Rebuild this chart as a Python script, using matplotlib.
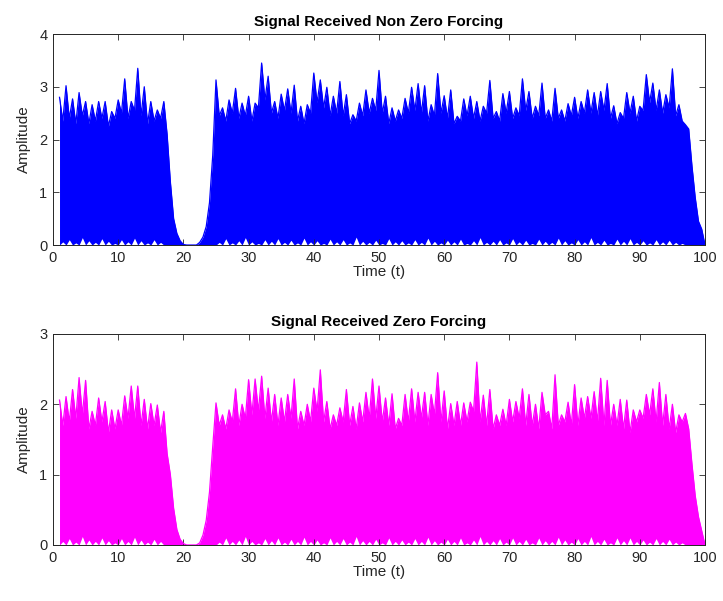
import numpy as np
import matplotlib.pyplot as plt

plt.rcParams['font.family'] = ['Liberation Sans', 'DejaVu Sans']

# envelope of the received signals
# values at whole time steps t = 1..100 and at the half steps t = 1.5..99.5
t_whole = np.arange(1, 101)
t_half = np.arange(1.5, 100, 1.0)

nzf_peaks = [2.80, 3.02, 2.77, 2.89, 2.72, 2.66, 2.72, 2.72, 2.53, 2.75, 3.15, 2.72, 3.35, 3.00, 2.72, 2.56, 2.72,
             1.20, 0.22, 0.01, 0.00, 0.00, 0.15, 0.80,
             3.13, 2.60, 2.75, 2.97, 2.69, 2.82, 2.69, 3.45, 3.20, 2.72, 2.86, 2.96, 3.03, 2.63, 2.66, 3.26,
             3.13, 2.99, 2.82, 3.10, 2.85, 2.47, 2.69, 2.94, 2.78, 3.31,
             2.82, 2.60, 2.56, 2.78, 2.99, 3.06, 3.02, 2.66, 3.25, 2.83, 2.94, 2.44, 2.77, 2.82, 2.72, 2.63,
             3.12, 2.53, 2.87, 2.91, 2.60, 3.15, 2.91, 2.63, 3.07, 2.56, 2.97,
             2.56, 2.68, 2.80, 2.72, 2.94, 2.89, 2.91, 3.06, 2.64, 2.51, 2.89, 2.82, 2.63, 3.23, 3.07, 2.94,
             2.85, 3.34, 2.66,
             2.28, 1.50, 0.45, 0.00]
nzf_valleys = [2.35, 2.40, 2.30, 2.45, 2.30, 2.35, 2.40, 2.25, 2.40, 2.50, 2.40, 2.55, 2.45, 2.30, 2.35, 2.40,
               2.10, 0.50, 0.08, 0.00, 0.00, 0.05, 0.35, 1.70,
               2.45, 2.35, 2.50, 2.40, 2.45, 2.35, 2.60, 2.75, 2.50, 2.40, 2.55, 2.50, 2.35, 2.30, 2.50, 2.70,
               2.60, 2.45, 2.50, 2.45, 2.30, 2.35, 2.45, 2.50, 2.55, 2.50, 2.30, 2.35, 2.40, 2.50, 2.55, 2.50,
               2.35, 2.45, 2.50, 2.40, 2.30, 2.35, 2.45, 2.40, 2.35, 2.50, 2.40, 2.35, 2.50, 2.40, 2.45, 2.55,
               2.40, 2.45, 2.40, 2.35, 2.40, 2.35, 2.45, 2.40, 2.50, 2.50, 2.45, 2.55, 2.40, 2.30, 2.40, 2.50,
               2.35, 2.55, 2.70, 2.55, 2.50, 2.60, 2.45,
               2.35, 2.20, 0.90, 0.30]
nzf_floor = [0.06, 0.10, 0.04, 0.14, 0.08, 0.05, 0.12, 0.07, 0.03, 0.10, 0.06, 0.13, 0.08, 0.04, 0.10, 0.05,
             0, 0, 0, 0, 0, 0, 0, 0,
             0.05, 0.12, 0.04, 0.08, 0.14, 0.06, 0.03, 0.10, 0.07, 0.12, 0.05, 0.09, 0.04, 0.13, 0.06, 0.08,
             0.03, 0.11, 0.06, 0.10, 0.04, 0.15, 0.07, 0.05, 0.09, 0.03, 0.12, 0.06, 0.08, 0.04, 0.10, 0.05,
             0.13, 0.07, 0.04, 0.09, 0.06, 0.11, 0.03, 0.08, 0.14, 0.05, 0.07, 0.10, 0.04, 0.12, 0.06, 0.09,
             0.03, 0.11, 0.07, 0.05, 0.13, 0.08, 0.04, 0.10, 0.06, 0.14, 0.05, 0.09, 0.03, 0.11, 0.07, 0.12,
             0.05, 0.08, 0.04, 0.10, 0.06, 0.09, 0.05,
             0.03, 0, 0, 0]

zf_peaks = [2.06, 2.11, 2.21, 2.38, 2.34, 1.90, 2.09, 2.04, 1.92, 1.92, 2.12, 2.26, 2.26, 2.07, 2.01, 1.99, 1.90,
            1.00, 0.22, 0.02, 0.00, 0.00, 0.14, 0.75,
            2.02, 1.85, 1.92, 2.22, 2.00, 2.35, 2.36, 2.40, 2.23, 2.14, 2.09, 2.14, 2.36, 1.90, 2.00, 2.23,
            2.49, 2.04, 1.85, 1.95, 2.21, 1.97, 2.02, 2.17, 2.36, 2.26,
            2.09, 2.15, 1.80, 2.14, 2.22, 2.17, 2.17, 2.14, 2.45, 2.19, 2.01, 2.04, 2.02, 2.03, 2.60, 2.13,
            2.21, 1.85, 1.93, 2.07, 2.04, 2.22, 2.14, 2.00, 2.17, 1.90, 2.42,
            1.85, 2.03, 2.28, 2.09, 2.11, 2.18, 2.37, 2.34, 2.00, 2.07, 2.06, 1.92, 1.92, 2.14, 2.22, 2.31,
            2.14, 2.00, 1.85,
            1.87, 1.15, 0.40, 0.00]
zf_valleys = [1.70, 1.75, 1.80, 1.85, 1.65, 1.70, 1.75, 1.60, 1.65, 1.70, 1.80, 1.80, 1.70, 1.65, 1.70, 1.60,
              1.30, 0.52, 0.08, 0.00, 0.00, 0.03, 0.35, 1.40,
              1.70, 1.65, 1.75, 1.70, 1.80, 1.85, 1.90, 1.80, 1.75, 1.70, 1.75, 1.80, 1.65, 1.70, 1.75, 1.90,
              1.75, 1.65, 1.70, 1.75, 1.70, 1.65, 1.75, 1.80, 1.80, 1.75, 1.70, 1.65, 1.70, 1.75, 1.75, 1.80,
              1.70, 1.85, 1.75, 1.65, 1.70, 1.70, 1.75, 1.90, 1.75, 1.70, 1.65, 1.70, 1.70, 1.75, 1.80, 1.70,
              1.70, 1.65, 1.85, 1.65, 1.70, 1.75, 1.70, 1.70, 1.80, 1.80, 1.75, 1.70, 1.70, 1.70, 1.65, 1.60,
              1.75, 1.80, 1.85, 1.75, 1.70, 1.65, 1.60,
              1.75, 1.65, 0.70, 0.20]
zf_floor = [0.05, 0.09, 0.04, 0.12, 0.07, 0.05, 0.10, 0.06, 0.03, 0.09, 0.05, 0.11, 0.07, 0.04, 0.08, 0.05,
            0, 0, 0, 0, 0, 0, 0, 0,
            0.04, 0.10, 0.05, 0.07, 0.12, 0.05, 0.03, 0.09, 0.06, 0.10, 0.04, 0.08, 0.05, 0.11, 0.05, 0.07,
            0.03, 0.10, 0.05, 0.09, 0.04, 0.12, 0.06, 0.05, 0.08, 0.03, 0.10, 0.05, 0.07, 0.04, 0.09, 0.05,
            0.11, 0.06, 0.04, 0.08, 0.05, 0.10, 0.03, 0.07, 0.12, 0.05, 0.06, 0.09, 0.04, 0.10, 0.05, 0.08,
            0.03, 0.10, 0.06, 0.05, 0.11, 0.07, 0.04, 0.09, 0.05, 0.12, 0.05, 0.08, 0.03, 0.10, 0.06, 0.10,
            0.05, 0.07, 0.04, 0.09, 0.05, 0.08, 0.04,
            0.03, 0, 0, 0]


def interleave(whole, half):
    out = np.empty(len(whole) + len(half))
    out[0::2] = whole
    out[1::2] = half
    return out


def draw_panel(ax, peaks, valleys, floor, color, ymax, title):
    t = interleave(t_whole, t_half)
    upper = interleave(peaks, valleys)
    lower = interleave(np.zeros(len(t_whole)), floor)
    ax.fill_between(t, lower, upper, color=color, lw=0)
    ax.plot(t, upper, color=color, lw=0.9)

    ax.set_xlim(0, 100)
    ax.set_ylim(0, ymax)
    ax.set_xticks(range(0, 101, 10))
    ax.set_yticks(range(0, ymax + 1))
    ax.tick_params(direction='in', top=True, right=True, length=4, width=0.6,
                   colors='#262626', labelsize=10.5, pad=4)
    for s in ax.spines.values():
        s.set_color('#262626')
        s.set_linewidth(0.7)
    ax.set_title(title, fontsize=11, fontweight='bold', pad=6)
    ax.set_xlabel('Time (t)', fontsize=11, color='#262626', labelpad=0)
    ax.set_ylabel('Amplitude', fontsize=11, color='#262626', labelpad=6)


fig = plt.figure(figsize=(7.23, 6.01), dpi=100)
ax1 = fig.add_axes([0.0733, 0.5923, 0.9018, 0.3511])
ax2 = fig.add_axes([0.0733, 0.0932, 0.9018, 0.3511])

draw_panel(ax1, nzf_peaks, nzf_valleys, nzf_floor, '#0000ff', 4, 'Signal Received Non Zero Forcing')
draw_panel(ax2, zf_peaks, zf_valleys, zf_floor, '#ff00ff', 3, 'Signal Received Zero Forcing')

fig.savefig('out.png', dpi=100)
